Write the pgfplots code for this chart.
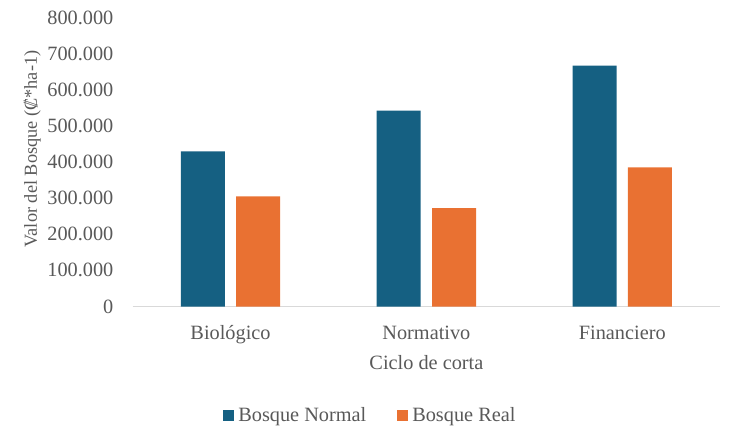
\documentclass[border=0pt]{standalone}
\usepackage{fontspec}
\setmainfont{Liberation Serif}
\usepackage{pgfplots}
\pgfplotsset{compat=1.18}
\definecolor{cblue}{HTML}{156082}
\definecolor{corange}{HTML}{E97132}
\definecolor{ctext}{HTML}{595959}
\definecolor{caxis}{HTML}{D9D9D9}
\newcommand{\cf}{\fontsize{20.3pt}{24pt}\selectfont}
\begin{document}
\cf
\begin{tikzpicture}[x=1pt,y=1pt]
\useasboundingbox (-132.6,-124.5) rectangle (602.4,306.5);
\begin{axis}[
  at={(0,0)}, anchor=south west,
  scale only axis, width=587.6pt, height=289pt,
  xmin=-0.5, xmax=2.5, ymin=0, ymax=800000,
  separate axis lines,
  axis x line*=bottom, axis y line*=left,
  x axis line style={draw=caxis, line width=1pt},
  y axis line style={draw=none},
  xtick={0,1,2}, xticklabels={Biológico,Normativo,Financiero},
  xtick style={draw=none},
  xticklabel style={anchor=base, inner sep=0pt, yshift=-32.8pt, text=ctext, font=\cf},
  ytick={0,100000,...,800000},
  /pgf/number format/assume math mode=true,
  yticklabel style={/pgf/number format/fixed, /pgf/number format/1000 sep={.}, anchor=east, inner sep=0pt, xshift=-19pt, text=ctext, font=\cf},
  scaled y ticks=false,
  ytick style={draw=none},
  legend style={at={(236.8pt,-109.2pt)}, anchor=center, draw=none, inner sep=0pt, nodes={inner sep=0pt}, legend columns=2, text=ctext, font=\cf, /tikz/every even column/.append style={column sep=31pt}},
  legend image code/.code={\fill[#1] (0pt,-5.3pt) rectangle (10.6pt,5.3pt); \path (15pt,0pt);},
]
\addplot[ybar, bar width=44pt, bar shift=-27.7pt, fill=cblue, draw=none] coordinates {(0,429600) (1,542000) (2,666600)};
\addlegendentry{Bosque Normal}
\addplot[ybar, bar width=44pt, bar shift=27.7pt, fill=corange, draw=none] coordinates {(0,305000) (1,272000) (2,385000)};
\addlegendentry{Bosque Real}
\end{axis}
\node[text=ctext, anchor=base, inner sep=0pt] at (293.8,-62.5) {Ciclo de corta};
\node[text=ctext, rotate=90, anchor=base, inner sep=0pt, font=\fontsize{18.3pt}{22pt}\selectfont] at (-95.6,157.5) {Valor del Bosque (₡*ha-1)};
\end{tikzpicture}
\end{document}
